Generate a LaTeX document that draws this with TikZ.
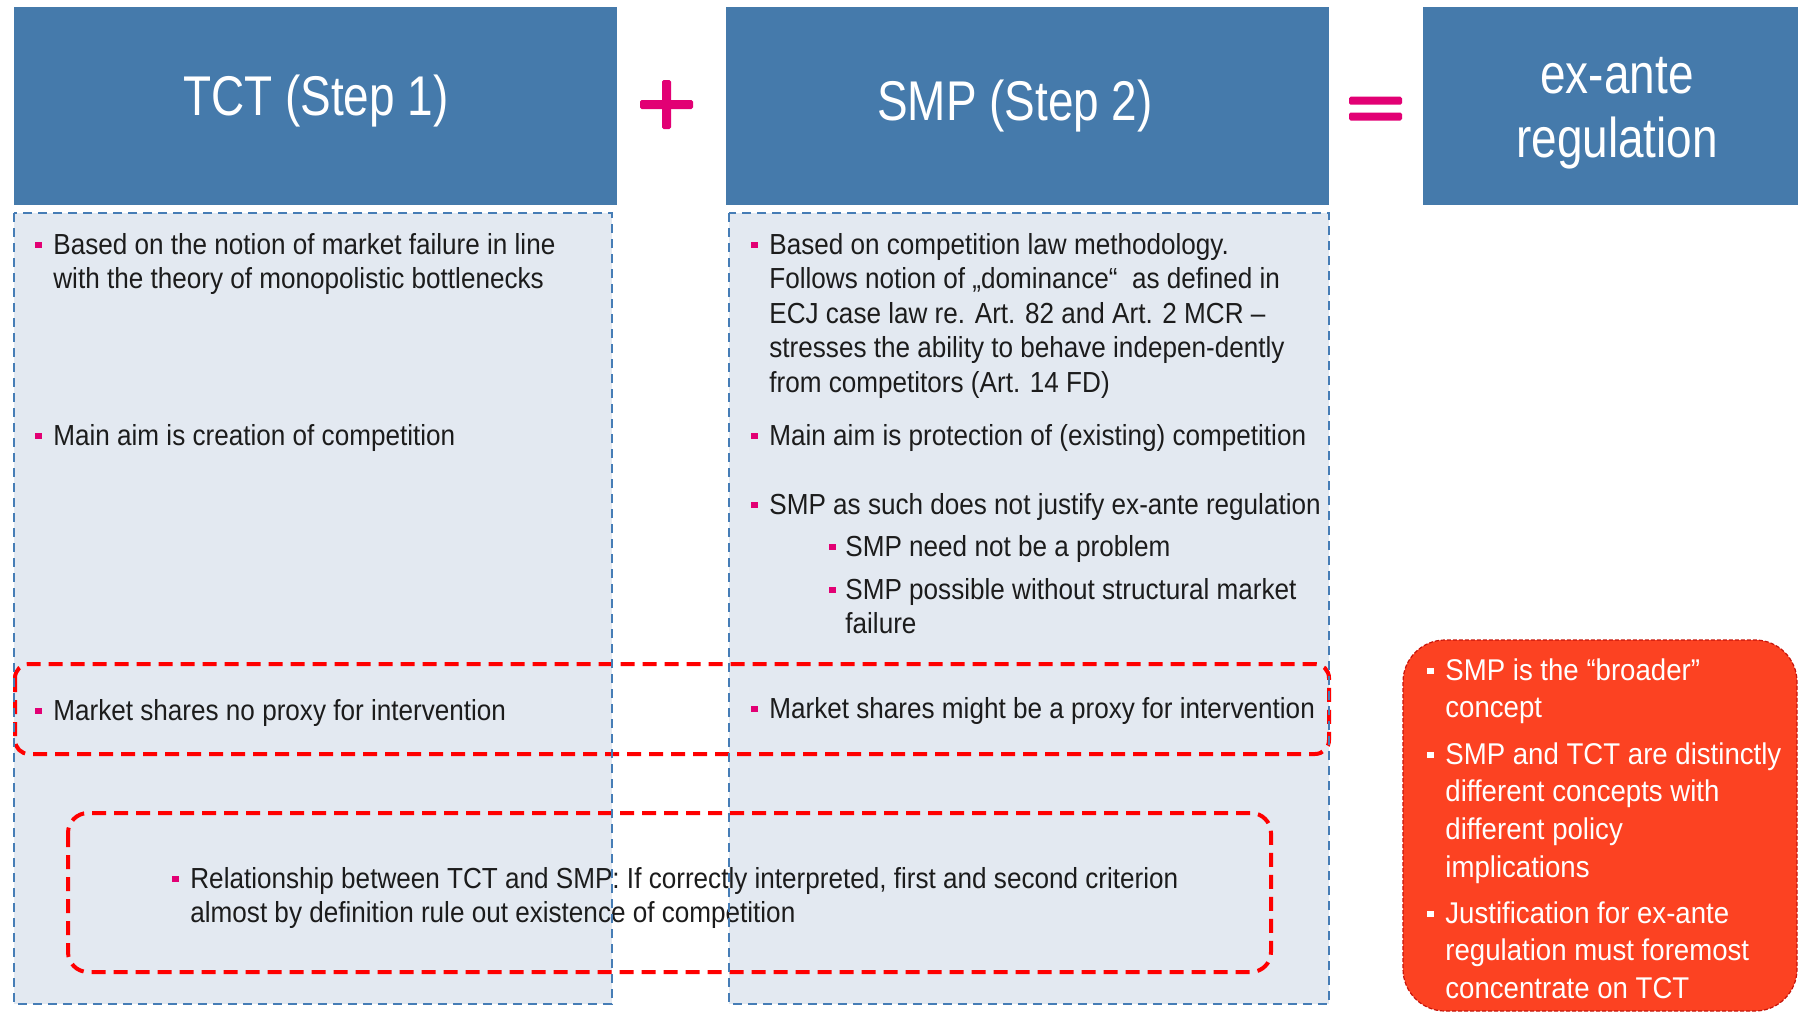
\documentclass[tikz,border=0pt]{standalone}
\usepackage{fontspec}
\setmainfont{Liberation Sans}[FakeStretch=0.9]
\newfontfamily\headfont{Liberation Sans}[FakeStretch=0.82]
\newfontfamily\notefont{Liberation Sans}[FakeStretch=0.92]
\definecolor{hdblue}{RGB}{69,122,171}
\definecolor{bdblue}{RGB}{70,125,182}
\definecolor{panel}{RGB}{227,233,241}
\definecolor{tmag}{RGB}{226,0,116}
\definecolor{ink}{RGB}{28,28,28}
\definecolor{notefill}{RGB}{252,66,34}
\definecolor{noteedge}{RGB}{200,20,10}
% small square bullet, #2 = left x, #3 = baseline of its text line
\newcommand\sqbul[3]{\fill[#1] (#2,{#3-12.5}) rectangle ++(6.5,6.5);}
\begin{document}
\begin{tikzpicture}[x=0.5pt,y=-0.5pt,
  header/.style={fill=hdblue,draw=none},
  hdtext/.style={text=white,font={\headfont\fontsize{28}{32}\selectfont},align=center,inner sep=0pt},
  panelbox/.style={fill=panel,draw=none},
  panelrim/.style={draw=bdblue,line width=1.2pt,dash pattern=on 4.5pt off 3pt},
  redframe/.style={draw=red,line width=2pt,dash pattern=on 7pt off 4pt},
  txt/.style={text=ink,font={\fontsize{14.5}{17.3}\selectfont},align=left,inner sep=0pt,anchor=base west},
  note/.style={text=white,font={\notefont\fontsize{15}{18.9}\selectfont},align=left,inner sep=0pt,anchor=base west},
  sign/.style={fill=tmag,rounded corners=0.8pt}]
% multi-line nodes are anchored at the baseline of their last line
\useasboundingbox (0,0) rectangle (1798,1012);
\fill[white] (0,0) rectangle (1798,1012);

% header blocks
\fill[header] (14,7) rectangle (617,205);
\fill[header] (726,7) rectangle (1329,205);
\fill[header] (1423,7) rectangle (1798,205);
\node[hdtext,anchor=base] (tct) at (316,115) {TCT (Step 1)};
\node[hdtext,anchor=base] (smp) at (1015,120) {SMP (Step 2)};
\node[hdtext,anchor=base] (exa) at (1617,157) {ex-ante\\regulation};

% plus and equals signs
\fill[sign] (640,100) rectangle (693,109);
\fill[sign] (662,80) rectangle (671,129);
\fill[sign] (1349,96.7) rectangle (1402,104.7);
\fill[sign] (1349,112.5) rectangle (1402,120.5);

% column panels
\fill[panelbox] (14,213) rectangle (612,1004);
\fill[panelbox] (729,213) rectangle (1329,1004);

% highlighted rows
\draw[redframe,rounded corners=7pt] (15,664) rectangle (1329,754);
\draw[redframe,rounded corners=10pt] (68,813) rectangle (1271,972);

% left column
\sqbul{tmag}{35}{254}
\node[txt] (l1) at (53,288.6) {Based on the notion of market failure in line\\with the theory of monopolistic bottlenecks};
\sqbul{tmag}{35}{445}
\node[txt] (l2) at (53,445) {Main aim is creation of competition};
\sqbul{tmag}{35}{720}
\node[txt] (l3) at (53,720) {Market shares no proxy for intervention};

% right column
\sqbul{tmag}{751}{254}
\node[txt] (r1) at (769,392.4) {Based on competition law methodology.\\Follows notion of „dominance“~ as defined in\\ECJ case law re. Art. 82 and Art. 2 MCR –\\stresses the ability to behave indepen-dently\\from competitors (Art. 14 FD)};
\sqbul{tmag}{751}{445}
\node[txt] (r2) at (769,445) {Main aim is protection of (existing) competition};
\sqbul{tmag}{751}{514}
\node[txt] (r3) at (769,514) {SMP as such does not justify ex-ante regulation};
\sqbul{tmag}{829}{556}
\node[txt] (r3a) at (845,556) {SMP need not be a problem};
\sqbul{tmag}{829}{599}
\node[txt] (r3b) at (845,633.6) {SMP possible without structural market\\failure};
\sqbul{tmag}{751}{718}
\node[txt] (r4) at (769,718) {Market shares might be a proxy for intervention};

% relationship statement
\sqbul{tmag}{172}{888}
\node[txt] (rel) at (190,922.6) {Relationship between TCT and SMP: If correctly interpreted, first and second criterion\\almost by definition rule out existence of competition};

% dashed column borders
\draw[panelrim] (14,213) rectangle (612,1004);
\draw[panelrim] (729,213) rectangle (1329,1004);

% conclusion box
\draw[fill=notefill,draw=noteedge,line width=0.6pt,dash pattern=on 2pt off 1pt,rounded corners=21pt] (1403,640) rectangle (1797,1011);
\sqbul{white}{1427}{680}
\node[note] (c1) at (1445,717.8) {SMP is the “broader”\\concept};
\sqbul{white}{1427}{764}
\node[note] (c2) at (1445,877.4) {SMP and TCT are distinctly\\different concepts with\\different policy\\implications};
\sqbul{white}{1427}{923}
\node[note] (c3) at (1445,998.6) {Justification for ex-ante\\regulation must foremost\\concentrate on TCT};
\end{tikzpicture}
\end{document}
